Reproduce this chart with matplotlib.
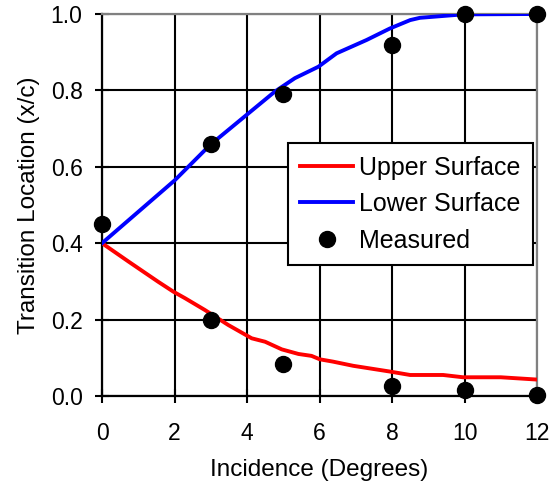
import numpy as np
import matplotlib.pyplot as plt

plt.rcParams['font.family'] = ['Liberation Sans', 'DejaVu Sans']

# transition curves (predicted)
upper_alpha = [0.0, 0.73, 1.55, 1.97, 2.29, 2.84, 3.48, 4.13, 4.5, 4.96, 5.42, 5.78,
               6.01, 6.37, 6.93, 7.94, 8.5, 9.41, 9.96, 11.0, 12.0]
upper_xc = [0.40, 0.352, 0.299, 0.273, 0.256, 0.225, 0.186, 0.151, 0.142, 0.122, 0.110,
            0.105, 0.096, 0.090, 0.079, 0.064, 0.055, 0.055, 0.049, 0.049, 0.043]

lower_alpha = [0.0, 2.01, 2.98, 3.76, 4.77, 5.32, 5.97, 6.47, 7.3, 7.94, 8.5, 8.77,
               9.96, 12.0]
lower_xc = [0.40, 0.565, 0.657, 0.718, 0.797, 0.832, 0.862, 0.897, 0.932, 0.962,
            0.984, 0.99, 0.999, 1.0]

# wind tunnel measurements
meas_alpha = [0, 3, 3, 5, 5, 8, 8, 10, 10, 12, 12]
meas_xc = [0.45, 0.66, 0.20, 0.79, 0.085, 0.92, 0.025, 1.0, 0.015, 1.0, 0.003]

fig = plt.figure(figsize=(5.58, 4.91), dpi=100)
ax = fig.add_axes([0.1828, 0.1935, 0.7796, 0.778])

ax.plot(upper_alpha, upper_xc, color='#ff0000', lw=2.8, label='Upper Surface', zorder=3)
ax.plot(lower_alpha, lower_xc, color='#0000ff', lw=2.8, label='Lower Surface', zorder=3)
ax.plot(meas_alpha, meas_xc, 'o', color='black', ms=11.5, label='Measured',
        clip_on=False, zorder=4)

ax.set_xlim(0, 12)
ax.set_ylim(0, 1.0)
ax.set_xticks(np.arange(0, 13, 2))
ax.set_yticks(np.arange(0, 1.01, 0.2))
ax.set_yticklabels([f'{v:.1f}' for v in np.arange(0, 1.01, 0.2)])
ax.grid(True, color='black', lw=1.5)
ax.set_axisbelow(True)

for side in ['left', 'bottom']:
    ax.spines[side].set_color('black')
    ax.spines[side].set_linewidth(1.6)
for side in ['top', 'right']:
    ax.spines[side].set_color('#808080')
    ax.spines[side].set_linewidth(1.6)

ax.tick_params(direction='inout', length=10, width=1.5, labelsize=16.5)
ax.tick_params(axis='x', pad=14)
ax.tick_params(axis='y', pad=9)
ax.set_xlabel('Incidence (Degrees)', fontsize=17.5, labelpad=10)
ax.set_ylabel('Transition Location (x/c)', fontsize=17.5, labelpad=8)

leg = ax.legend(loc='upper right', bbox_to_anchor=(0.991, 0.662), fontsize=18,
                fancybox=False, framealpha=1, edgecolor='black', handlelength=2.1,
                handletextpad=0.25, borderpad=0.5, labelspacing=0.5, borderaxespad=0)
leg.get_frame().set_linewidth(1.5)

fig.savefig('out.png', dpi=100)
